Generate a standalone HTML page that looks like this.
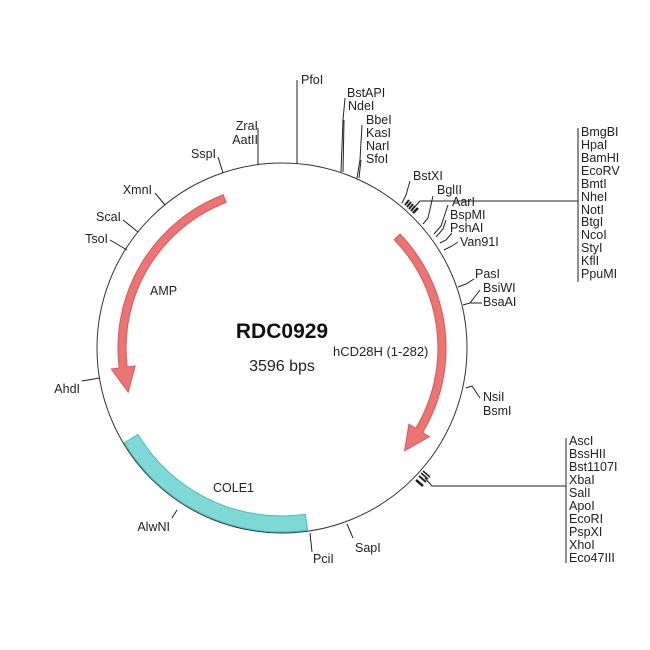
<!DOCTYPE html>
<html><head><meta charset="utf-8"><style>
html,body{margin:0;padding:0;background:#fff;}
svg{display:block;}
text{font-family:"Liberation Sans",Arial,sans-serif;font-size:12.5px;fill:#222;}
</style></head><body>
<svg width="650" height="650" viewBox="0 0 650 650" xmlns="http://www.w3.org/2000/svg">
<rect width="650" height="650" fill="#fff"/>
<circle cx="282" cy="348" r="185" fill="none" stroke="#333" stroke-width="1"/>
<path d="M307.6,530.2 A184,184 0 0 1 124.3,442.8 L138.0,434.5 A168,168 0 0 0 305.4,514.4 Z" fill="#7dd8d6" stroke="#49bdbb" stroke-width="1"/>
<path d="M223.2,194.9 A164,164 0 0 0 119.2,368.0 L111.3,369.0 L128.2,392.1 L135.1,366.0 L127.2,367.0 A156,156 0 0 1 226.1,202.4 Z" fill="#ee7474" stroke="#d55" stroke-width="1"/>
<path d="M400.0,234.1 A164,164 0 0 1 422.6,432.5 L429.4,436.6 L404.6,450.8 L408.9,424.2 L415.7,428.3 A156,156 0 0 0 394.2,239.6 Z" fill="#ee7474" stroke="#d55" stroke-width="1"/>

<g stroke="#222" stroke-width="1" fill="none">
<line x1="297" y1="164" x2="297" y2="80"/>
<line x1="258" y1="165" x2="258" y2="128"/>
<polyline points="341,172 343,120 345,98"/>
<polyline points="343,172 344,120"/>
<polyline points="357,178 360,160 362,125"/>
<polyline points="359,178 361,160"/>
<polyline points="402,203 406,195 410,181"/>
<line x1="405" y1="205" x2="409" y2="200" stroke-width="2"/>
<line x1="407" y1="207" x2="411" y2="202" stroke-width="2"/>
<line x1="409" y1="209" x2="413" y2="204" stroke-width="2"/>
<line x1="411" y1="211" x2="415" y2="206" stroke-width="2"/>
<line x1="413" y1="213" x2="418" y2="208" stroke-width="2.5"/>
<polyline points="412,210 420,201 578,201"/>
<polyline points="423,224 428,218 433,196"/>
<polyline points="434,234 441,226 448,205"/>
<polyline points="436,237 443,229 446,220"/>
<polyline points="440,243 446,240 452,233"/>
<polyline points="444,250 452,246 458,242"/>
<line x1="578" y1="128" x2="578" y2="282"/>
<polyline points="458,287 466,284 474,279"/>
<polyline points="463,305 470,303 480,290"/>
<line x1="470" y1="303" x2="482" y2="303"/>
<polyline points="466,388 472,386 480,398"/>
<line x1="416" y1="480" x2="423" y2="486" stroke-width="2.5"/>
<line x1="419" y1="476" x2="426" y2="482" stroke-width="2"/>
<line x1="421" y1="473" x2="428" y2="479" stroke-width="1.5"/>
<line x1="423" y1="471" x2="430" y2="477" stroke-width="1.5"/>
<polyline points="425,478 432,486 566,486"/>
<line x1="566" y1="438" x2="566" y2="563"/>
<line x1="347" y1="524" x2="353" y2="538"/>
<line x1="310" y1="533" x2="312" y2="552"/>
<line x1="177" y1="510" x2="172" y2="518"/>
<line x1="100" y1="378" x2="82" y2="381"/>
<line x1="127" y1="250" x2="110" y2="240"/>
<line x1="138" y1="232" x2="123" y2="220"/>
<line x1="165" y1="205" x2="155" y2="193"/>
<line x1="223" y1="173" x2="218" y2="157"/>
</g>

<text x="301" y="84">PfoI</text>
<text x="258" y="130" text-anchor="end">ZraI</text>
<text x="258" y="144" text-anchor="end">AatII</text>
<text x="347" y="97">BstAPI</text>
<text x="348" y="110">NdeI</text>
<text x="366" y="124">BbeI</text>
<text x="366" y="137">KasI</text>
<text x="366" y="150">NarI</text>
<text x="366" y="163">SfoI</text>
<text x="413" y="180">BstXI</text>
<text x="437" y="194">BglII</text>
<text x="452" y="206">AarI</text>
<text x="450" y="219">BspMI</text>
<text x="450" y="232">PshAI</text>
<text x="460" y="246">Van91I</text>
<text x="475" y="278">PasI</text>
<text x="483" y="292">BsiWI</text>
<text x="483" y="306">BsaAI</text>
<text x="483" y="401">NsiI</text>
<text x="483" y="415">BsmI</text>
<g>
<text x="581" y="136">BmgBI</text>
<text x="581" y="149">HpaI</text>
<text x="581" y="162">BamHI</text>
<text x="581" y="175">EcoRV</text>
<text x="581" y="188">BmtI</text>
<text x="581" y="201">NheI</text>
<text x="581" y="214">NotI</text>
<text x="581" y="226">BtgI</text>
<text x="581" y="239">NcoI</text>
<text x="581" y="252">StyI</text>
<text x="581" y="265">KflI</text>
<text x="581" y="278">PpuMI</text>
</g>
<g>
<text x="569" y="445">AscI</text>
<text x="569" y="458">BssHII</text>
<text x="569" y="471">Bst1107I</text>
<text x="569" y="484">XbaI</text>
<text x="569" y="497">SalI</text>
<text x="569" y="510">ApoI</text>
<text x="569" y="523">EcoRI</text>
<text x="569" y="536">PspXI</text>
<text x="569" y="549">XhoI</text>
<text x="569" y="562">Eco47III</text>
</g>
<text x="355" y="552">SapI</text>
<text x="313" y="563">PciI</text>
<text x="170" y="531" text-anchor="end">AlwNI</text>
<text x="80" y="393" text-anchor="end">AhdI</text>
<text x="108" y="243" text-anchor="end">TsoI</text>
<text x="121" y="221" text-anchor="end">ScaI</text>
<text x="152" y="194" text-anchor="end">XmnI</text>
<text x="216" y="158" text-anchor="end">SspI</text>
<text x="150" y="295">AMP</text>
<text x="213" y="492">COLE1</text>
<text x="333" y="356" style="font-size:13px">hCD28H (1-282)</text>
<text x="282" y="338" text-anchor="middle" style="font-size:21px;font-weight:bold;fill:#111">RDC0929</text>
<text x="282" y="371" text-anchor="middle" style="font-size:16px">3596 bps</text>
</svg>
</body></html>
